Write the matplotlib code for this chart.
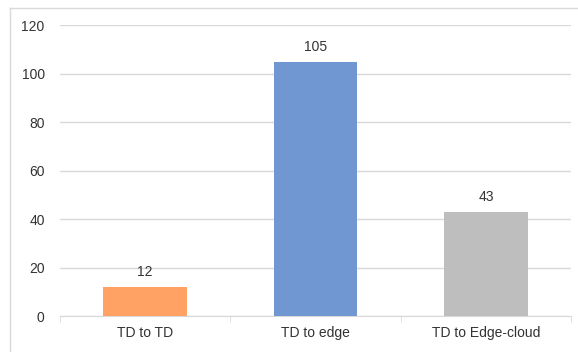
import matplotlib.pyplot as plt
from matplotlib.lines import Line2D

categories = ['TD to TD', 'TD to edge', 'TD to Edge-cloud']
values = [12, 105, 43]
colors = ['#FFA264', '#7097D2', '#BEBEBE']
yticks = [0, 20, 40, 60, 80, 100, 120]

plt.rcParams['font.family'] = ['Liberation Sans', 'DejaVu Sans']

fig = plt.figure(figsize=(5.78, 3.52), dpi=100)
ax = fig.add_axes([0.1038, 0.1009, 0.8842, 0.8267])

x = range(len(categories))
bars = ax.bar(x, values, width=0.49, color=colors, zorder=3)
for b, v in zip(bars, values):
    ax.annotate(str(v), (b.get_x() + b.get_width() / 2, v), xytext=(0, 6),
                textcoords='offset points', ha='center', va='bottom',
                fontsize=10, color='#333333')

ax.set_xlim(-0.5, len(categories) - 0.5)
ax.set_ylim(0, 120)
ax.set_yticks(yticks)
ax.set_xticks(list(x))
ax.set_xticklabels(categories)
ax.set_xticks([i - 0.5 for i in range(len(categories) + 1)], minor=True)

ax.grid(axis='y', color='#D9D9D9', linewidth=1, zorder=0)
for side in ['top', 'right', 'left']:
    ax.spines[side].set_visible(False)
ax.spines['bottom'].set_color('#D9D9D9')
ax.tick_params(axis='y', length=0, pad=11, labelsize=10, labelcolor='#333333')
ax.tick_params(axis='x', which='major', length=0, pad=7, labelsize=10, labelcolor='#333333')
ax.tick_params(axis='x', which='minor', length=4, color='#D9D9D9')

# chart frame, left and top edges only
fig.add_artist(Line2D([10 / 578, 10 / 578], [0, 1 - 8 / 352], transform=fig.transFigure,
                      color='#D9D9D9', linewidth=1))
fig.add_artist(Line2D([10 / 578, 1], [1 - 8 / 352, 1 - 8 / 352], transform=fig.transFigure,
                      color='#D9D9D9', linewidth=1))

fig.savefig('out.png', dpi=100)
